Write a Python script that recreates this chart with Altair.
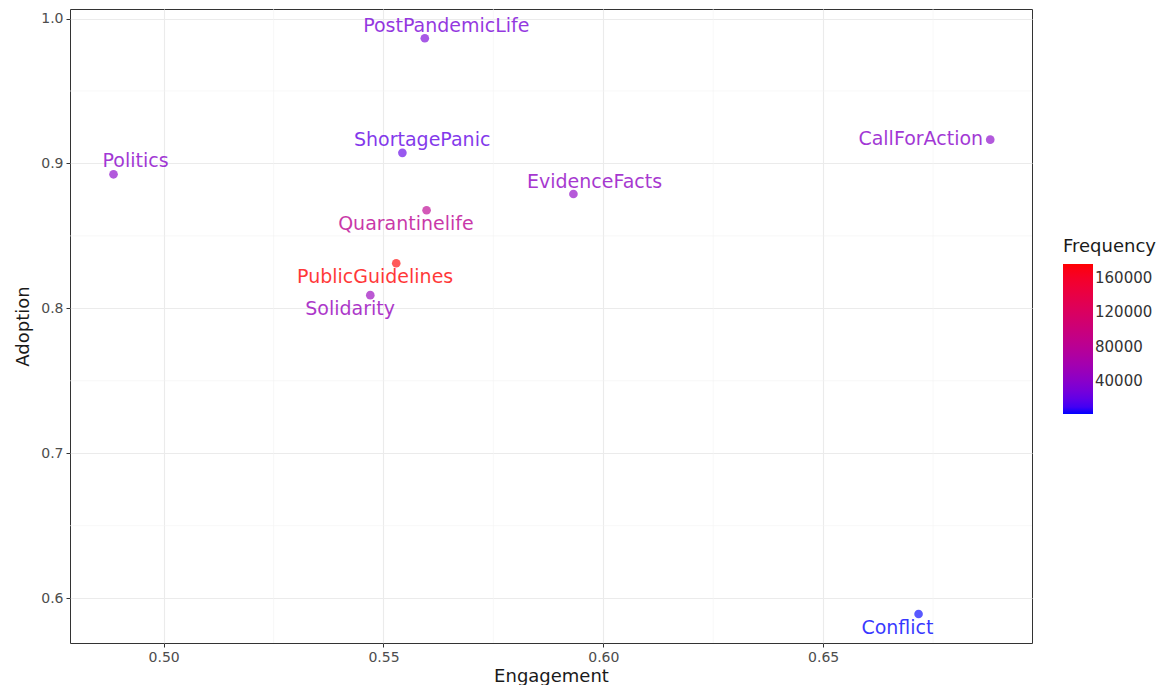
import altair as alt
import pandas as pd

topics = ["PostPandemicLife", "ShortagePanic", "Politics", "CallForAction",
          "EvidenceFacts", "Quarantinelife", "PublicGuidelines", "Solidarity", "Conflict"]
engagement = [0.5594, 0.5543, 0.4886, 0.6880, 0.5932, 0.5598, 0.5529, 0.5470, 0.6717]
adoption = [0.9864, 0.9073, 0.8925, 0.9164, 0.8789, 0.8677, 0.8311, 0.8091, 0.5890]
frequency = [30000, 20000, 40000, 40000, 44000, 82000, 176000, 50000, 2000]

# label nudges (data units), as a repel layout would place them
nudge_x = [0.0049, 0.0045, 0.0050, -0.0158, 0.0048, -0.0047, -0.0048, -0.0046, -0.0048]
nudge_y = [0.0085, 0.0089, 0.0092, 0.0007, 0.0085, -0.0096, -0.0096, -0.0096, -0.0096]

x_major = [0.50, 0.55, 0.60, 0.65]
x_minor = [0.525, 0.575, 0.625, 0.675]
y_major = [0.6, 0.7, 0.8, 0.9, 1.0]
y_minor = [0.65, 0.75, 0.85, 0.95]
legend_ticks = [40000, 80000, 120000, 160000]

df = pd.DataFrame({
    "Topic": topics, "Engagement": engagement, "Adoption": adoption,
    "Frequency": frequency, "nx": nudge_x, "ny": nudge_y,
})
df["lx"] = df["Engagement"] + df["nx"]
df["ly"] = df["Adoption"] + df["ny"]

FONT = "DejaVu Sans"
xdom = [0.4787, 0.6975]
ydom = [0.5690, 1.0066]

xscale = alt.Scale(domain=xdom, nice=False, zero=False)
yscale = alt.Scale(domain=ydom, nice=False, zero=False)
cscale = alt.Scale(domain=[min(frequency), max(frequency)], range=["blue", "red"], interpolate="lab")
xaxis = alt.Axis(values=x_major, format=".2f", title="Engagement")
yaxis = alt.Axis(values=y_major, format=".1f", title="Adoption")

base = alt.Chart(df)

minor_x = alt.Chart(pd.DataFrame({"v": x_minor})).mark_rule(color="#f3f3f3", strokeWidth=0.6).encode(
    x=alt.X("v:Q", scale=xscale, axis=xaxis))
minor_y = alt.Chart(pd.DataFrame({"v": y_minor})).mark_rule(color="#f3f3f3", strokeWidth=0.6).encode(
    y=alt.Y("v:Q", scale=yscale, axis=yaxis))

legend_layer = base.mark_point(size=0, opacity=1, filled=True).encode(
    x=alt.X("Engagement:Q", scale=xscale, axis=xaxis),
    y=alt.Y("Adoption:Q", scale=yscale, axis=yaxis),
    color=alt.Color("Frequency:Q", scale=cscale,
                    legend=alt.Legend(title="Frequency", values=legend_ticks, format="d",
                                      orient="none", legendX=993, legendY=229,
                                      gradientLength=150, gradientThickness=30,
                                      gradientStrokeWidth=0)),
)

points = base.mark_circle(size=75, opacity=0.65).encode(
    x=alt.X("Engagement:Q", scale=xscale, axis=xaxis),
    y=alt.Y("Adoption:Q", scale=yscale, axis=yaxis),
    color=alt.Color("Frequency:Q", scale=cscale, legend=None),
)

labels = base.mark_text(font=FONT, fontSize=19, opacity=0.78, baseline="middle", align="center").encode(
    x=alt.X("lx:Q", scale=xscale, axis=xaxis),
    y=alt.Y("ly:Q", scale=yscale, axis=yaxis),
    text="Topic:N",
    color=alt.Color("Frequency:Q", scale=cscale, legend=None),
)

chart = alt.layer(minor_x, minor_y, legend_layer, points, labels).resolve_legend(
    color="independent"
).properties(
    width=962, height=634,
    padding={"left": 6, "top": 0, "right": 0, "bottom": 0},
).configure_view(
    stroke="#333333", strokeWidth=1,
).configure_axis(
    grid=True, gridColor="#ebebeb", gridWidth=1.1,
    domain=False, tickColor="#333333", tickSize=4,
    labelFont=FONT, labelFontSize=14, labelColor="#4d4d4d", labelPadding=3,
    titleFont=FONT, titleFontSize=18, titleColor="#1a1a1a", titleFontWeight="normal",
).configure_axisY(titlePadding=8).configure_axisX(titlePadding=3).configure_legend(
    titleFont=FONT, titleFontSize=18, titleFontWeight="normal", titleColor="#1a1a1a",
    labelFont=FONT, labelFontSize=15, labelColor="#333333", titlePadding=8, labelOffset=8,
)

chart.save("out.html", embed_options={"renderer": "svg", "actions": False})
